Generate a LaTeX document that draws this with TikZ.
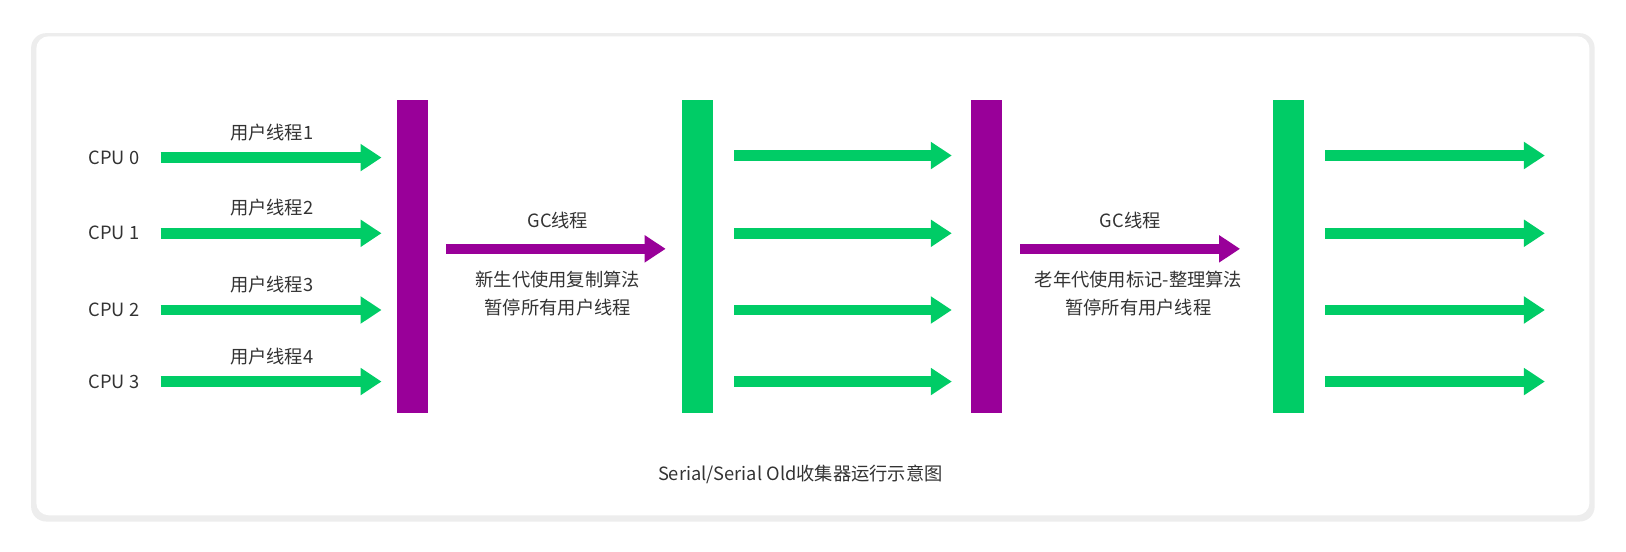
\documentclass[tikz,border=0pt]{standalone}
\usepackage{fontspec}
\setmainfont{Noto Sans CJK SC}
\usetikzlibrary{arrows.meta,positioning}
\definecolor{gcgreen}{HTML}{00CC66}
\definecolor{gcpurple}{HTML}{990099}
\definecolor{txt}{HTML}{333333}
\tikzset{
  lbl/.style={text=txt,font=\fontsize{10.4}{12}\selectfont,inner sep=0pt},
  fat/.style={line width=0.21cm,-{Triangle[length=0.42cm,width=0.52cm]}},
  bar/.style={inner sep=0pt,minimum width=0.62cm,minimum height=6.26cm}
}
\begin{document}
\begin{tikzpicture}[x=0.02074cm,y=-0.02074cm]
  \path[use as bounding box,fill=white] (0,0) rectangle (32.52cm,-11.04cm);
  \fill[black!7,rounded corners=0.3cm] (30,32) rectangle (1538,503);
  \fill[white,rounded corners=0.25cm] (35,35) rectangle (1533,497);

  % bars
  \node[bar,fill=gcpurple] (p1) at (398,247) {};
  \node[bar,fill=gcgreen] (g1) at (673,247) {};
  \node[bar,fill=gcpurple] (p2) at (951,247) {};
  \node[bar,fill=gcgreen] (g2) at (1243,247) {};

  % cpus and user threads
  \foreach \i/\y in {0/152,1/225,2/299,3/368}{
    \node[lbl] (cpu\i) at (110,\y) {CPU \i};
    \coordinate (s\i) at (155,\y);
    \coordinate (e\i) at (368,\y);
    \draw[fat,gcgreen] (s\i) -- (e\i);
    \pgfmathtruncatemacro{\n}{\i+1}
    \node[lbl,above=0.33cm of s\i,xshift=2.22cm] (u\i) {用户线程\n};
  }
  \foreach \i/\y in {0/150,1/225,2/299,3/368}{
    \coordinate (a\i) at (708,\y);
    \coordinate (b\i) at (918,\y);
    \draw[fat,gcgreen] (a\i) -- (b\i);
    \coordinate (c\i) at (1278,\y);
    \coordinate (d\i) at (1490,\y);
    \draw[fat,gcgreen] (c\i) -- (d\i);
  }

  % gc threads
  \coordinate (m1) at (430,240);
  \coordinate (n1) at (642,240);
  \draw[fat,gcpurple] (m1) -- (n1);
  \node[lbl] (gc1) at (538,213) {GC线程};
  \node[lbl] (t1) at (538,270) {新生代使用复制算法};
  \node[lbl] (h1) at (538,297) {暂停所有用户线程};

  \coordinate (m2) at (984,240);
  \coordinate (n2) at (1196,240);
  \draw[fat,gcpurple] (m2) -- (n2);
  \node[lbl] (gc2) at (1090,213) {GC线程};
  \node[lbl] (t2) at (1098,270) {老年代使用标记-整理算法};
  \node[lbl] (h2) at (1098,297) {暂停所有用户线程};

  \node[lbl] (cap) at (772,458) {Serial/Serial Old收集器运行示意图};
\end{tikzpicture}
\end{document}
